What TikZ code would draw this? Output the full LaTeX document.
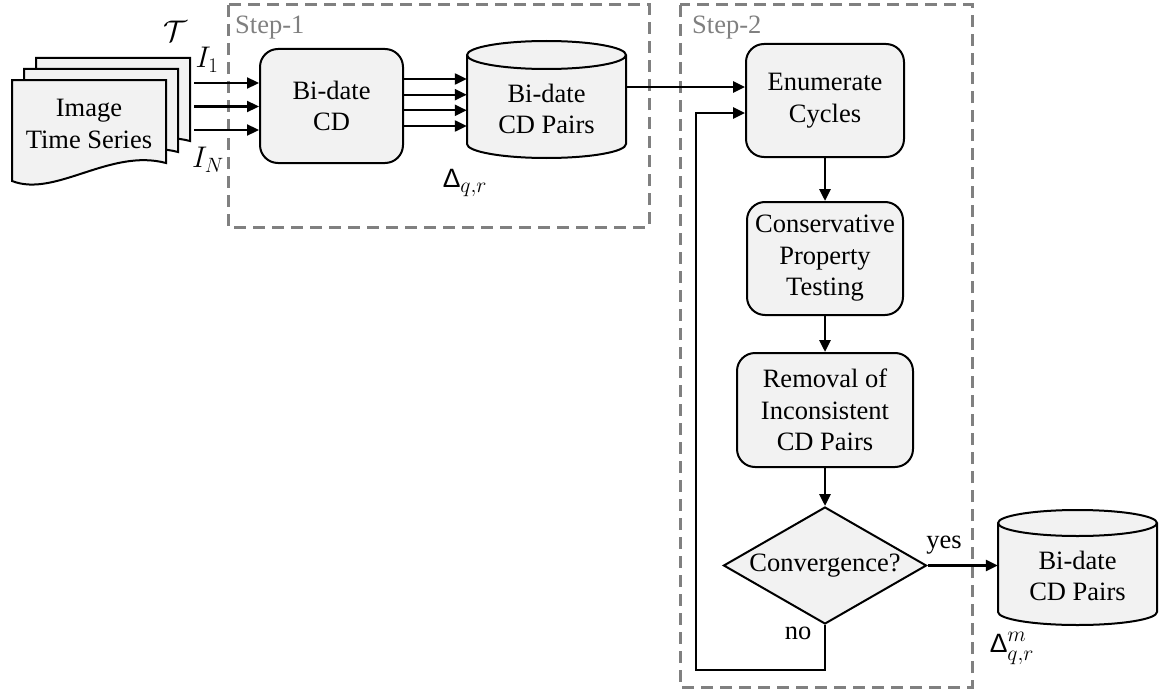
\documentclass[tikz,border=0pt]{standalone}
\usepackage{graphicx}
\usepackage{fontspec}
\setmainfont{Liberation Serif}
\newfontfamily\deltafont{Liberation Sans}
\usetikzlibrary{arrows.meta,shapes.geometric}
\definecolor{boxfill}{HTML}{F2F2F2}
\definecolor{dashgray}{HTML}{808080}
\begin{document}
\begin{tikzpicture}[x=1pt,y=-1pt,
  font=\fontsize{26.5}{31.5}\selectfont,
  box/.style={draw, line width=2pt, fill=boxfill},
  rbox/.style={box, rounded corners=18pt, align=center, inner sep=0pt},
  arr/.style={line width=2.8pt, -{Triangle[length=12pt,width=11pt]}},
  thinarr/.style={line width=2.3pt, -{Triangle[length=12pt,width=11pt]}},
  grp/.style={draw=dashgray, line width=3pt, dash pattern=on 12pt off 7pt},
  lbl/.style={inner sep=0pt},
  steplbl/.style={inner sep=0pt, anchor=base west, text=dashgray}]
\useasboundingbox (0,0) rectangle (1159,693);

% group boxes
\draw[grp] (228,5) rectangle (649,227);
\draw[grp] (680,5) rectangle (972,687);
\node[steplbl] (l1) at (235,34) {Step-1};
\node[steplbl] (l2) at (692,34) {Step-2};

% stacked documents
\foreach \dx/\dy in {24/-22,12/-11,0/0}{
  \begin{scope}[shift={(\dx,\dy)}]
    \draw[box, line join=miter] (12,80) -- (166,80) -- (166,163)
      .. controls (110,148) and (55,198) .. (12,181) -- cycle;
  \end{scope}
}
\node[align=center, lbl] (doc) at (89,124) {Image\\Time Series};
\coordinate (ds) at (194,106.5);
\node[lbl] (tau) at (175,31) {\scalebox{1.2}{$\mathcal{T}$}};
\node[lbl] (i1) at (207,60) {\scalebox{1.2}{$I_1$}};
\node[lbl] (iN) at (208,160) {\scalebox{1.2}{$I_N$}};

% Bi-date CD
\node[rbox, minimum width=143pt, minimum height=114pt] (bdcd) at (331.5,106) {Bi-date\\CD};

% cylinder 1
\node[lbl, minimum width=159pt, minimum height=117pt] (db1) at (546.5,99.5) {};
\draw[box] (467,55) -- (467,144)
  arc[start angle=180, end angle=360, x radius=79.5pt, y radius=14pt]
  -- (626,55)
  arc[start angle=0, end angle=180, x radius=79.5pt, y radius=14pt] -- cycle;
\draw[line width=2pt] (467,55) arc[start angle=180, end angle=360, x radius=79.5pt, y radius=14pt];
\node[align=center, lbl] (db1t) at (546.5,109) {Bi-date\\CD Pairs};
\node[lbl] (d1) at (465,183) {{\deltafont Δ}\scalebox{1.25}{$_{q,r}$}};

% arrows step 1
\foreach \d in {-23.5,0,23.5}{
  \draw[thinarr] ([yshift=-\d pt]ds) -- ([yshift=-\d pt]ds -| bdcd.west);
}
\coordinate (mid) at (403,102.5);
\foreach \d in {-23.5,-7.8,7.8,23.5}{
  \draw[thinarr] ([yshift=-\d pt]mid) -- ([yshift=-\d pt]mid -| db1.west);
}

% step 2 boxes
\node[rbox, minimum width=158pt, minimum height=113pt] (enum) at (825,100.5) {Enumerate\\Cycles};
\node[rbox, minimum width=156pt, minimum height=113pt] (cons) at (825,258.5) {Conservative\\Property\\Testing};
\node[rbox, minimum width=176pt, minimum height=114pt] (rem) at (825,410) {Removal of\\Inconsistent\\CD Pairs};
\node[box, diamond, aspect=1.735, minimum width=203pt, minimum height=117pt, inner sep=0pt] (dia) at (825,565.5) {Convergence?};

% cylinder 2
\node[lbl, minimum width=159pt, minimum height=115pt] (db2) at (1077.5,567.5) {};
\draw[box] (998,523) -- (998,612)
  arc[start angle=180, end angle=360, x radius=79.5pt, y radius=13pt]
  -- (1157,523)
  arc[start angle=0, end angle=180, x radius=79.5pt, y radius=13pt] -- cycle;
\draw[line width=2pt] (998,523) arc[start angle=180, end angle=360, x radius=79.5pt, y radius=13pt];
\node[align=center, lbl] (db2t) at (1077.5,576) {Bi-date\\CD Pairs};
\node[lbl] (d2) at (1012,648) {{\deltafont Δ}\scalebox{1.25}{$^m_{q,r}$}};

% connectors
\draw[arr] ([yshift=12.5pt]db1.east) coordinate (a1) -- (a1 -| enum.west);
\draw[arr] (enum) -- (cons);
\draw[arr] (cons) -- (rem);
\draw[arr] (rem) -- (dia);
\draw[arr] (dia.east) -- (dia.east -| db2.west);
\node[lbl] (yes) at (944,545) {yes};
\coordinate (fbl) at (696,670);
\coordinate (fbt) at (696,113);
\draw[arr, line join=miter] (dia.south) |- (fbl) -- (fbt) -- (fbt -| enum.west);
\node[lbl] (no) at (798,633) {no};
\end{tikzpicture}
\end{document}
